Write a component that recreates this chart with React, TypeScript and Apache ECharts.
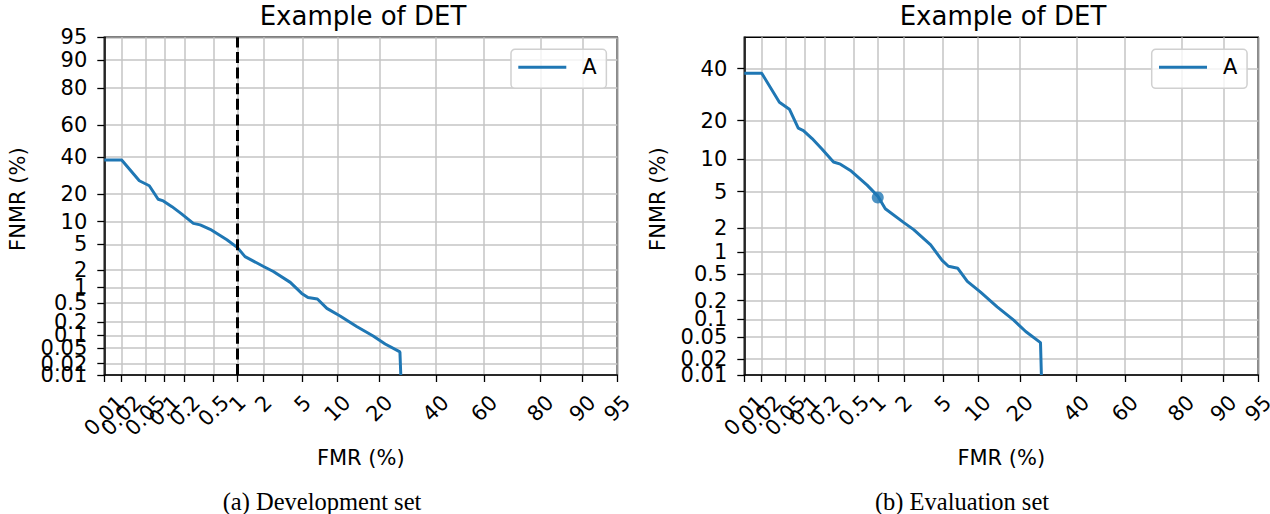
import React, { useEffect, useRef } from "react";
import * as echarts from "echarts";

// ---------- data ----------
const tickPercents = [0.01, 0.02, 0.05, 0.1, 0.2, 0.5, 1, 2, 5, 10, 20, 40, 60, 80, 90, 95];
const tickLabels = ["0.01", "0.02", "0.05", "0.1", "0.2", "0.5", "1", "2", "5", "10", "20", "40", "60", "80", "90", "95"];

// System A DET curve (FMR %, FNMR %)
const fmrA = [0.01, 0.0202, 0.04, 0.058, 0.08, 0.096, 0.13, 0.18, 0.265, 0.33, 0.45, 0.74, 1.0, 1.23, 2.0, 2.55, 3.8, 4.9, 5.6, 6.8, 8.2, 10.5, 14, 18.2, 21.7, 26.5, 26.8];
const fnmrA = [38, 38, 26.3, 23.8, 17.7, 17, 14.8, 12.3, 9.5, 9.1, 8.0, 5.8, 4.5, 3.3, 2.3, 1.9, 1.23, 0.77, 0.64, 0.6, 0.39, 0.27, 0.16, 0.097, 0.0625, 0.04, 0.01];

const thresholdFmr = 1; // dev-set threshold (dashed line)
const operatingFmr = [1]; // eval-set operating point
const operatingFnmr = [4.35];

const axisMinPct = 0.01;
const axisMaxPct = 95;
const evalFnmrMaxPct = 54;

const seriesName = "A";
const titleText = "Example of DET";
const xName = "FMR (%)";
const yName = "FNMR (%)";
const captions = ["(a) Development set", "(b) Evaluation set"];

// ---------- probit scale ----------
function probit(pct: number): number {
  const p = pct / 100;
  const a = [-3.969683028665376e1, 2.209460984245205e2, -2.759285104469687e2, 1.38357751867269e2, -3.066479806614716e1, 2.506628277459239];
  const b = [-5.447609879822406e1, 1.615858368580409e2, -1.556989798598866e2, 6.680131188771972e1, -1.328068155288572e1];
  const c = [-7.784894002430293e-3, -3.223964580411365e-1, -2.400758277161838, -2.549732539343734, 4.374664141464968, 2.938163982698783];
  const d = [7.784695709041462e-3, 3.224671290700398e-1, 2.445134137142996, 3.754408661907416];
  const pl = 0.02425;
  if (p < pl) {
    const q = Math.sqrt(-2 * Math.log(p));
    return (((((c[0] * q + c[1]) * q + c[2]) * q + c[3]) * q + c[4]) * q + c[5]) / ((((d[0] * q + d[1]) * q + d[2]) * q + d[3]) * q + 1);
  }
  if (p <= 1 - pl) {
    const q = p - 0.5;
    const r = q * q;
    return ((((((a[0] * r + a[1]) * r + a[2]) * r + a[3]) * r + a[4]) * r + a[5]) * q) / (((((b[0] * r + b[1]) * r + b[2]) * r + b[3]) * r + b[4]) * r + 1);
  }
  const q = Math.sqrt(-2 * Math.log(1 - p));
  return -(((((c[0] * q + c[1]) * q + c[2]) * q + c[3]) * q + c[4]) * q + c[5]) / ((((d[0] * q + d[1]) * q + d[2]) * q + d[3]) * q + 1);
}

const FONT = "'DejaVu Sans', sans-serif";
const SERIF = "'Liberation Serif', serif";
const TICK_FS = 21;
const TITLE_FS = 26;
const LH = 22;
const BLUE = "#1f77b4";

// label drawing order (keeps ECharts from hiding labels next to the axis ends)
const labelOrder = [6, 10, 0, 1, 2, 3, 4, 5, 7, 9, 11, 12, 13, 14, 15, 8];
const tickVals = labelOrder.map((i) => probit(tickPercents[i]));
const labelFor = (v: number) => {
  const i = tickPercents.findIndex((t) => Math.abs(probit(t) - v) < 1e-6);
  return i;
};

const textW = (s: string) => [...s].reduce((acc, ch) => acc + (ch === "." ? 0.318 : 0.636), 0) * TICK_FS;
const xRich: Record<string, any> = {};
tickLabels.forEach((l, i) => {
  const p = 0.5 * textW(l);
  xRich["t" + i] = { fontSize: TICK_FS, fontFamily: FONT, color: "#000", lineHeight: LH, padding: [p, p, 0, 0] };
});

const grids = [
  { left: 104.3, top: 37.3, width: 513, height: 337.7 },
  { left: 744.3, top: 37.3, width: 514, height: 337.7 },
];
const titleX = [363, 1003];
const captionX = [322, 962];
const legendLeft = [511, 1151.7];
const yMaxPct = [axisMaxPct, evalFnmrMaxPct];

const makeX = (gi: number) => ({
  type: "value",
  gridIndex: gi,
  min: probit(axisMinPct),
  max: probit(axisMaxPct),
  name: xName,
  nameLocation: "middle",
  nameGap: 72,
  nameMoveOverlap: false,
  nameTextStyle: { fontSize: TICK_FS, fontFamily: FONT, color: "#000", lineHeight: LH },
  axisLine: { show: true, onZero: false, lineStyle: { color: "#000", width: 1.5 } },
  axisTick: { show: true, customValues: tickVals, length: 7, lineStyle: { color: "#000", width: 1.3 } },
  axisLabel: {
    customValues: tickVals,
    rotate: 45,
    align: "center",
    verticalAlign: "middle",
    margin: 24,
    hideOverlap: false,
    fontSize: TICK_FS,
    fontFamily: FONT,
    formatter: (v: number) => {
      const i = labelFor(v);
      return i < 0 ? "" : `{t${i}|${tickLabels[i]}}`;
    },
    rich: xRich,
  },
  splitLine: { show: true, lineStyle: { color: "#c4c4c4", width: 1.5 } },
});

const makeY = (gi: number) => ({
  type: "value",
  gridIndex: gi,
  min: probit(axisMinPct),
  max: probit(yMaxPct[gi]),
  name: yName,
  nameLocation: "middle",
  nameGap: 75,
  nameMoveOverlap: false,
  nameTextStyle: { fontSize: TICK_FS, fontFamily: FONT, color: "#000", lineHeight: LH, padding: [0, 0, 0, 14] },
  axisLine: { show: true, onZero: false, lineStyle: { color: "#000", width: 1.5 } },
  axisTick: { show: true, customValues: tickVals, length: 7, lineStyle: { color: "#000", width: 1.3 } },
  axisLabel: {
    customValues: tickVals,
    margin: 17,
    hideOverlap: false,
    fontSize: TICK_FS,
    fontFamily: FONT,
    color: "#000",
    formatter: (v: number) => {
      const i = labelFor(v);
      return i < 0 ? "" : tickLabels[i];
    },
  },
  splitLine: { show: true, lineStyle: { color: "#c4c4c4", width: 1.5 } },
});

const curve = fmrA.map((x, i) => [probit(x), probit(fnmrA[i])]);

export default function App() {
  const ref = useRef<HTMLDivElement>(null);
  useEffect(() => {
    if (!ref.current) return;
    const chart = echarts.init(ref.current, null, { renderer: "svg" });
    const option: any = {
      animation: false,
      backgroundColor: "#fff",
      textStyle: { fontFamily: FONT },
      grid: grids.map((g) => ({
        ...g,
        show: true,
        borderColor: "#000",
        borderWidth: 1.5,
        backgroundColor: "transparent",
        containLabel: false,
        outerBoundsMode: "none",
      })),
      xAxis: [makeX(0), makeX(1)],
      yAxis: [makeY(0), makeY(1)],
      legend: [0, 1].map((i) => ({
        data: [seriesName],
        left: legendLeft[i],
        top: 49.3,
        orient: "vertical",
        icon: "rect",
        itemWidth: 48,
        itemHeight: 3,
        padding: [7, 9.7, 10, 7.3],
        backgroundColor: "rgba(255,255,255,0.8)",
        borderColor: "#d0d0d0",
        borderWidth: 1.5,
        borderRadius: 4,
        selectedMode: false,
        textStyle: { fontSize: TICK_FS, fontFamily: FONT, color: "#000", lineHeight: LH, padding: [0, 0, 0, 11] },
      })),
      graphic: [
        ...[0, 1].map((i) => ({
          type: "text",
          x: titleX[i],
          y: 16,
          style: { text: titleText, fontSize: TITLE_FS, fontFamily: FONT, fill: "#000", textAlign: "center", textVerticalAlign: "middle" },
        })),
        ...[0, 1].map((i) => ({
          type: "text",
          x: captionX[i],
          y: 501,
          style: { text: captions[i], fontSize: 24.5, fontFamily: SERIF, fill: "#000", textAlign: "center", textVerticalAlign: "middle" },
        })),
      ],
      series: [
        {
          type: "line",
          name: seriesName,
          xAxisIndex: 0,
          yAxisIndex: 0,
          data: curve,
          symbol: "none",
          lineStyle: { color: BLUE, width: 3 },
          itemStyle: { color: BLUE },
          z: 3,
        },
        {
          type: "line",
          xAxisIndex: 0,
          yAxisIndex: 0,
          data: [
            [probit(thresholdFmr), probit(axisMinPct)],
            [probit(thresholdFmr), probit(axisMaxPct)],
          ],
          symbol: "none",
          silent: true,
          lineStyle: { color: "#000", width: 3, type: [11, 4.6] },
          z: 4,
        },
        {
          type: "line",
          name: seriesName,
          xAxisIndex: 1,
          yAxisIndex: 1,
          data: curve,
          symbol: "none",
          lineStyle: { color: BLUE, width: 3 },
          itemStyle: { color: BLUE },
          z: 3,
        },
        {
          type: "scatter",
          xAxisIndex: 1,
          yAxisIndex: 1,
          data: operatingFmr.map((x, i) => [probit(x), probit(operatingFnmr[i])]),
          symbol: "circle",
          symbolSize: 12,
          itemStyle: { color: BLUE },
          z: 5,
        },
      ],
    };
    chart.setOption(option);
    return () => chart.dispose();
  }, []);
  return <div ref={ref} style={{ position: "fixed", left: 0, top: 0, width: 1270, height: 514 }} />;
}
